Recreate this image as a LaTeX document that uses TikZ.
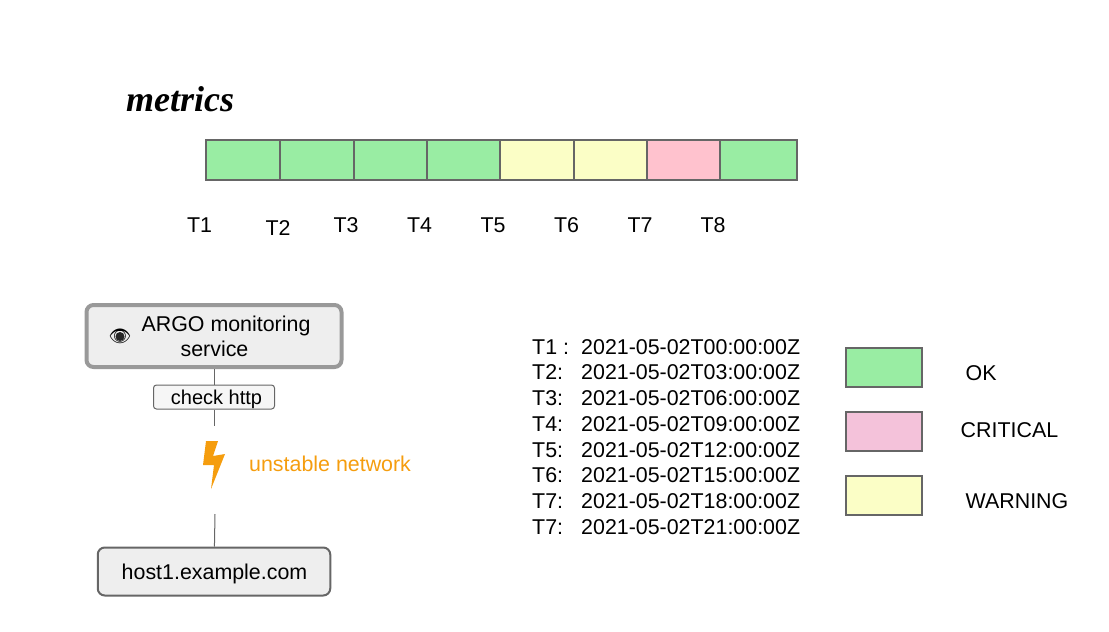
\documentclass[tikz,border=0pt]{standalone}
\usepackage{fontspec}
\setmainfont{Liberation Sans}
\newfontfamily\emojifont{Noto Emoji}
\newfontfamily\handfont{Liberation Serif}
\definecolor{okgreen}{HTML}{99EDA3}
\definecolor{warn}{HTML}{FBFEC6}
\definecolor{crit}{HTML}{FFC2CE}
\definecolor{critleg}{HTML}{F4C2DA}
\definecolor{edge}{HTML}{666666}
\definecolor{boxfill}{HTML}{EEEEEE}
\definecolor{orange}{HTML}{F59D0E}
\tikzset{
  x=1pt,y=-1pt,
  txt/.style={font=\fontsize{21.4}{25}\selectfont,text=black,inner sep=0pt},
  cell/.style={draw=edge,line width=2pt,minimum height=39.5pt,inner sep=0pt,anchor=north west},
  leg/.style={draw=edge,line width=2pt,minimum width=76pt,minimum height=39pt,inner sep=0pt},
  link/.style={draw=edge,line width=1pt},
  rbox/.style={draw=edge,fill=boxfill,rounded corners=7pt,line width=2pt,inner sep=0pt},
}
\begin{document}
\begin{tikzpicture}
\useasboundingbox (0,0) rectangle (1109,632);
\node[inner sep=0pt,font=\handfont\bfseries\itshape\fontsize{36}{40}\selectfont] (title) at (180,99) {metrics};
% bar
\node[cell,fill=okgreen,minimum width=75pt] (c1) at (204.5,139) {};
\node[cell,fill=okgreen,minimum width=74pt] (c2) at (279,139) {};
\node[cell,fill=okgreen,minimum width=73pt] (c3) at (353,139) {};
\node[cell,fill=okgreen,minimum width=73pt] (c4) at (426,139) {};
\node[cell,fill=warn,minimum width=74pt] (c5) at (499,139) {};
\node[cell,fill=warn,minimum width=73pt] (c6) at (573,139) {};
\node[cell,fill=crit,minimum width=73pt] (c7) at (646,139) {};
\node[cell,fill=okgreen,minimum width=76.5pt] (c8) at (719,139) {};
% T labels
\node[txt] (t1) at (199.5,225) {T1};
\node[txt] (t2) at (278,228) {T2};
\node[txt] (t3) at (346,225) {T3};
\node[txt] (t4) at (419.5,225) {T4};
\node[txt] (t5) at (493,225) {T5};
\node[txt] (t6) at (566.5,225) {T6};
\node[txt] (t7) at (640,225) {T7};
\node[txt] (t8) at (713,225) {T8};
% left chain
\coordinate (g1) at (214,426);
\coordinate (g2) at (215,514);
\node[rbox,line width=4pt,draw=black!40!white,minimum width=255pt,minimum height=62pt] (argo) at (214,336) {};
\node[txt] (argotxt) at (226,325.5) {ARGO monitoring};
\node[txt] (argotxtb) at (214.5,349) {service};
\node[inner sep=0pt,font=\emojifont\fontsize{18}{23}\selectfont] (eye) at (120,336) {👁};
\fill[black!85] (120,336.5) circle (4.5pt);
\node[rbox,minimum width=232.5pt,minimum height=48pt] (host) at (214,571.5) {};
\node[txt] (hosttxt) at (214.5,574) {host1.example.com};
\node[draw=edge,fill=boxfill!50!white,rounded corners=3pt,line width=1pt,minimum width=121pt,minimum height=24pt,inner sep=0pt] (check) at (214,397) {};
\node[txt,font=\fontsize{20}{23}\selectfont] (checktxt) at (216.5,399) {check http};
\draw[link] (argo) -- (check);
\draw[link] (check) -- (g1);
\draw[link] (g2) -- (host);
% bolt
\path[fill=orange] (206,441) -- (218,441) -- (213,456) -- (225,454) -- (211,489) -- (214,465) -- (203,465) -- cycle;
\node[txt,text=orange,anchor=west] (unst) at (249,463.5) {unstable network};
% time list
\foreach \n/\lab/\val [count=\i from 0] in {a/T1 :/2021-05-02T00:00:00Z,b/T2:/2021-05-02T03:00:00Z,c/T3:/2021-05-02T06:00:00Z,d/T4:/2021-05-02T09:00:00Z,e/T5:/2021-05-02T12:00:00Z,f/T6:/2021-05-02T15:00:00Z,g/T7:/2021-05-02T18:00:00Z,h/T7:/2021-05-02T21:00:00Z}{
  \node[txt,anchor=base west] (l\n) at (532,354+25.75*\i) {\lab};
  \node[txt,anchor=base west] (v\n) at (581,354+25.75*\i) {\val};
}
% legend
\node[leg,fill=okgreen] (lok) at (883.5,367.5) {};
\node[leg,fill=critleg] (lcrit) at (883.5,431.5) {};
\node[leg,fill=warn] (lwarn) at (883.5,495.5) {};
\node[txt,anchor=west] (tok) at (965.5,373) {OK};
\node[txt,anchor=west] (tcrit) at (960.5,430) {CRITICAL};
\node[txt,anchor=west] (twarn) at (965.5,501.5) {WARNING};
\end{tikzpicture}
\end{document}
